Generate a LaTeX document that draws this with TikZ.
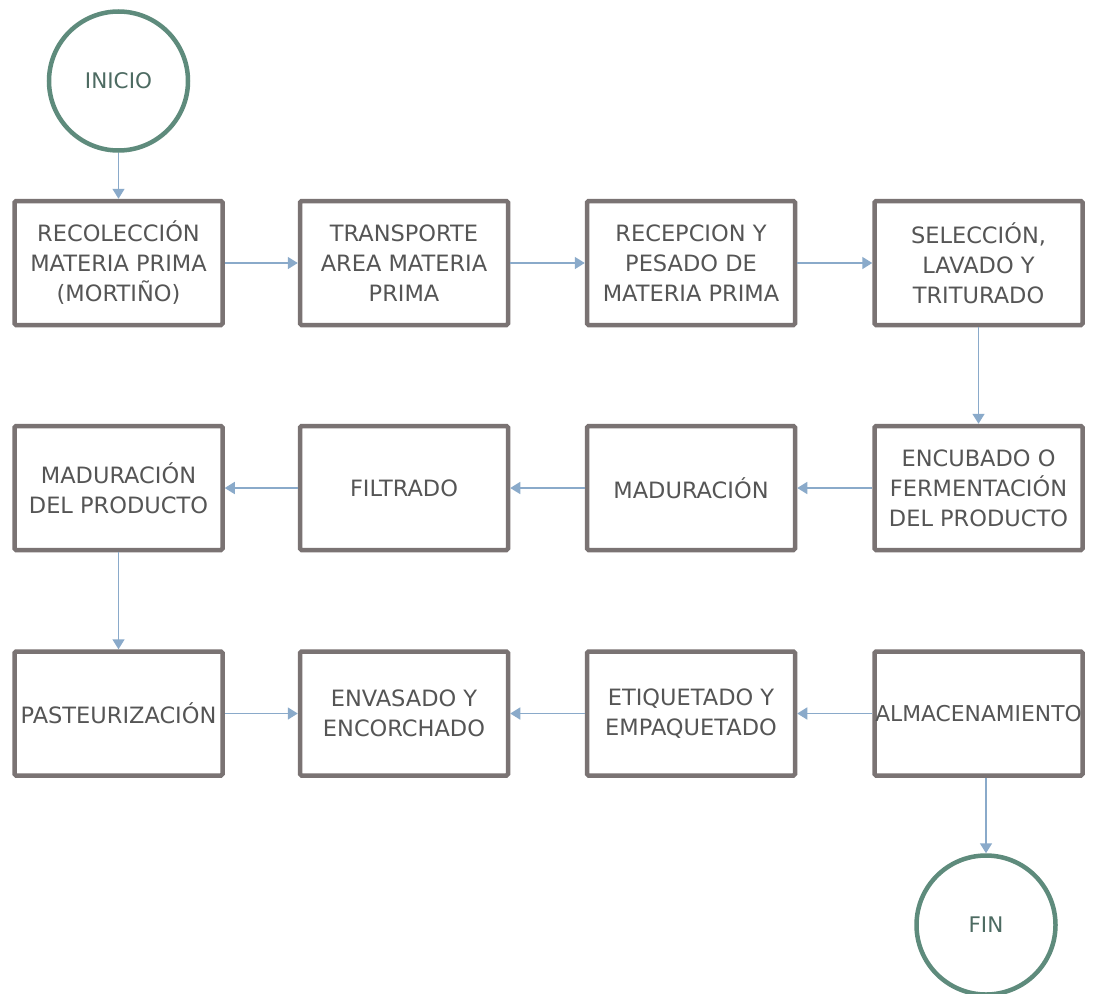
\documentclass[tikz,border=0pt]{standalone}
\usepackage{fontspec}
\setmainfont{DejaVu Sans}
\usetikzlibrary{arrows.meta}
\definecolor{boxgray}{HTML}{7A7373}
\definecolor{circgreen}{HTML}{5E8B7C}
\definecolor{arrowblue}{HTML}{8AAACA}
\definecolor{txtgray}{HTML}{555555}
\definecolor{txtgreen}{HTML}{4D6B62}
\tikzset{
  stepbox/.style={draw=boxgray, line width=4.5pt, rounded corners=1.5pt, minimum width=208pt, minimum height=124pt, align=center, text=txtgray, font=\fontsize{22.5}{30}\selectfont, inner sep=0pt},
  termcirc/.style={circle, draw=circgreen, line width=4.5pt, minimum size=139pt, text=txtgreen, font=\fontsize{21.5}{24}\selectfont},
  flow/.style={draw=arrowblue, line width=1.6pt, -{Triangle[length=10pt,width=12pt]}}
}
\begin{document}
\begin{tikzpicture}[x=1pt,y=-1pt]
\useasboundingbox[fill=white] (0,0) rectangle (1097,993);
\node[termcirc] (inicio) at (118.5,81) {INICIO};
\node[termcirc] (fin) at (986,925) {FIN};
% row 1
\node[stepbox] (a1) at (118.5,263) {RECOLECCIÓN\\MATERIA PRIMA\\(MORTIÑO)};
\node[stepbox] (a2) at (404,263) {TRANSPORTE\\AREA MATERIA\\PRIMA};
\node[stepbox] (a3) at (691,263) {RECEPCION Y\\PESADO DE\\MATERIA PRIMA};
\node[stepbox] (a4) at (978.5,263) {SELECCIÓN,\\LAVADO Y\\TRITURADO};
% row 2
\node[stepbox] (b1) at (118.5,488) {MADURACIÓN\\DEL PRODUCTO};
\node[stepbox] (b2) at (404,488) {FILTRADO};
\node[stepbox] (b3) at (691,488) {MADURACIÓN};
\node[stepbox] (b4) at (978.5,488) {ENCUBADO O\\FERMENTACIÓN\\DEL PRODUCTO};
% row 3
\node[stepbox] (c1) at (118.5,713.5) {PASTEURIZACIÓN};
\node[stepbox] (c2) at (404,713.5) {ENVASADO Y\\ENCORCHADO};
\node[stepbox] (c3) at (691,713.5) {ETIQUETADO Y\\EMPAQUETADO};
\node[stepbox, font=\fontsize{21.8}{30}\selectfont] (c4) at (978.5,713.5) {ALMACENAMIENTO};
% connectors
\draw[flow] (inicio.south) -- (a1.north);
\draw[flow] (a1.east) -- (a2.west);
\draw[flow] (a2.east) -- (a3.west);
\draw[flow] (a3.east) -- (a4.west);
\draw[flow] (a4.south) -- (b4.north);
\draw[flow] (b4.west) -- (b3.east);
\draw[flow] (b3.west) -- (b2.east);
\draw[flow] (b2.west) -- (b1.east);
\draw[flow] (b1.south) -- (c1.north);
\draw[flow] (c1.east) -- (c2.west);
\draw[flow] (c3.west) -- (c2.east);
\draw[flow] (c4.west) -- (c3.east);
\draw[flow] (c4.south -| fin.north) -- (fin.north);
\end{tikzpicture}
\end{document}
